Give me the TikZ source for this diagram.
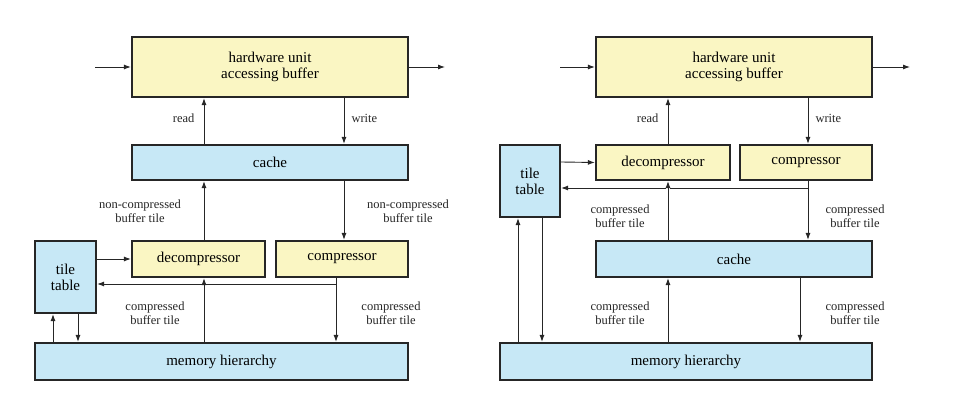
\documentclass[tikz,border=0pt]{standalone}
\usepackage{fontspec}
\setmainfont{Liberation Serif}
\usetikzlibrary{arrows.meta}
\definecolor{yel}{HTML}{FAF6C3}
\definecolor{blu}{HTML}{C7E8F6}
\begin{document}
\begin{tikzpicture}[x=1pt,y=-1pt,
  box/.style={draw=black!85,line width=2.2pt,inner sep=0pt,align=center,font=\fontsize{15}{16}\selectfont},
  yb/.style={box,fill=yel}, bb/.style={box,fill=blu},
  ar/.style={-{Latex[length=7pt,width=5pt]},line width=0.9pt,black!85},
  ln/.style={line width=0.9pt,black!85},
  lab/.style={font=\fontsize{12.5}{14}\selectfont,align=center,text=black!85}]
\useasboundingbox (0,0) rectangle (954,403);
% ---- left
\node[yb,minimum width=276pt,minimum height=60pt] (hw1) at (270,67) {hardware unit\\accessing buffer};
\node[bb,minimum width=276pt,minimum height=35pt] (ca1) at (270,162.5) {cache};
\node[yb,minimum width=133pt,minimum height=36pt] (de1) at (198.5,259) {decompressor};
\node[yb,minimum width=132pt,minimum height=36pt] (co1) at (342,259) {compressor};
\node[bb,minimum width=61pt,minimum height=72pt] (tt1) at (65.5,277) {tile\\table};
\node[bb,minimum width=373pt,minimum height=37pt] (me1) at (221.5,361.5) {memory hierarchy};
\coordinate (in1) at (95,67); \coordinate (out1) at (445,67);
\draw[ar] (in1) -- (hw1.west);
\draw[ar] (hw1.east) -- (out1);
\draw[ar] (ca1.north -| 204,0) -- (hw1.south -| 204,0);
\draw[ar] (hw1.south -| 344,0) -- (ca1.north -| 344,0);
\node[lab,anchor=east] (rl1) at (198,118) {read};
\node[lab,anchor=west] (wl1) at (348,118) {write};
\draw[ar] (de1.north -| 204,0) -- (ca1.south -| 204,0);
\draw[ar] (ca1.south -| 344,0) -- (co1.north -| 344,0);
\node[lab] (nl1) at (140,211) {non-compressed\\buffer tile};
\node[lab] (nr1) at (408,211) {non-compressed\\buffer tile};
\draw[ar] (tt1.east |- 0,259) -- (de1.west);
\coordinate (j1) at (336,284);
\draw[ar] (j1) -- (tt1.east |- j1);
\draw[ar] (co1.south -| j1) -- (me1.north -| j1);
\draw[white,line width=4pt] (204,284) -- (204,290);
\draw[ar] (me1.north -| 204,0) -- (de1.south -| 204,0);
\draw[ar] (me1.north -| 53,0) -- (tt1.south -| 53,0);
\draw[ar] (tt1.south -| 78,0) -- (me1.north -| 78,0);
\node[lab] (cl1) at (155,313) {compressed\\buffer tile};
\node[lab] (cr1) at (391,313) {compressed\\buffer tile};
% ---- right
\node[yb,minimum width=276pt,minimum height=60pt] (hw2) at (734,67) {hardware unit\\accessing buffer};
\node[yb,minimum width=134pt,minimum height=35pt] (de2) at (663,162.5) {decompressor};
\node[yb,minimum width=132pt,minimum height=35pt] (co2) at (806,162.5) {compressor};
\node[bb,minimum width=60pt,minimum height=72pt] (tt2) at (530,181) {tile\\table};
\node[bb,minimum width=276pt,minimum height=36pt] (ca2) at (734,259) {cache};
\node[bb,minimum width=372pt,minimum height=37pt] (me2) at (686,361.5) {memory hierarchy};
\coordinate (in2) at (560,67); \coordinate (out2) at (910,67);
\draw[ar] (in2) -- (hw2.west);
\draw[ar] (hw2.east) -- (out2);
\draw[ar] (de2.north -| 668,0) -- (hw2.south -| 668,0);
\draw[ar] (hw2.south -| 808,0) -- (co2.north -| 808,0);
\node[lab,anchor=east] (rl2) at (662,118) {read};
\node[lab,anchor=west] (wl2) at (812,118) {write};
\draw[ar] (tt2.east |- 0,162) -- (de2.west);
\coordinate (j2) at (808,188);
\draw[ar] (j2) -- (tt2.east |- j2);
\draw[ar] (co2.south -| j2) -- (ca2.north -| j2);
\draw[white,line width=4pt] (668,188) -- (668,194);
\draw[ar] (ca2.north -| 668,0) -- (de2.south -| 668,0);
\node[lab] (cl2) at (620,216) {compressed\\buffer tile};
\node[lab] (cr2) at (855,216) {compressed\\buffer tile};
\draw[ar] (me2.north -| 668,0) -- (ca2.south -| 668,0);
\draw[ar] (ca2.south -| 800,0) -- (me2.north -| 800,0);
\node[lab] (cl3) at (620,313) {compressed\\buffer tile};
\node[lab] (cr3) at (855,313) {compressed\\buffer tile};
\draw[ar] (me2.north -| 518,0) -- (tt2.south -| 518,0);
\draw[ar] (tt2.south -| 542,0) -- (me2.north -| 542,0);
\end{tikzpicture}
\end{document}
